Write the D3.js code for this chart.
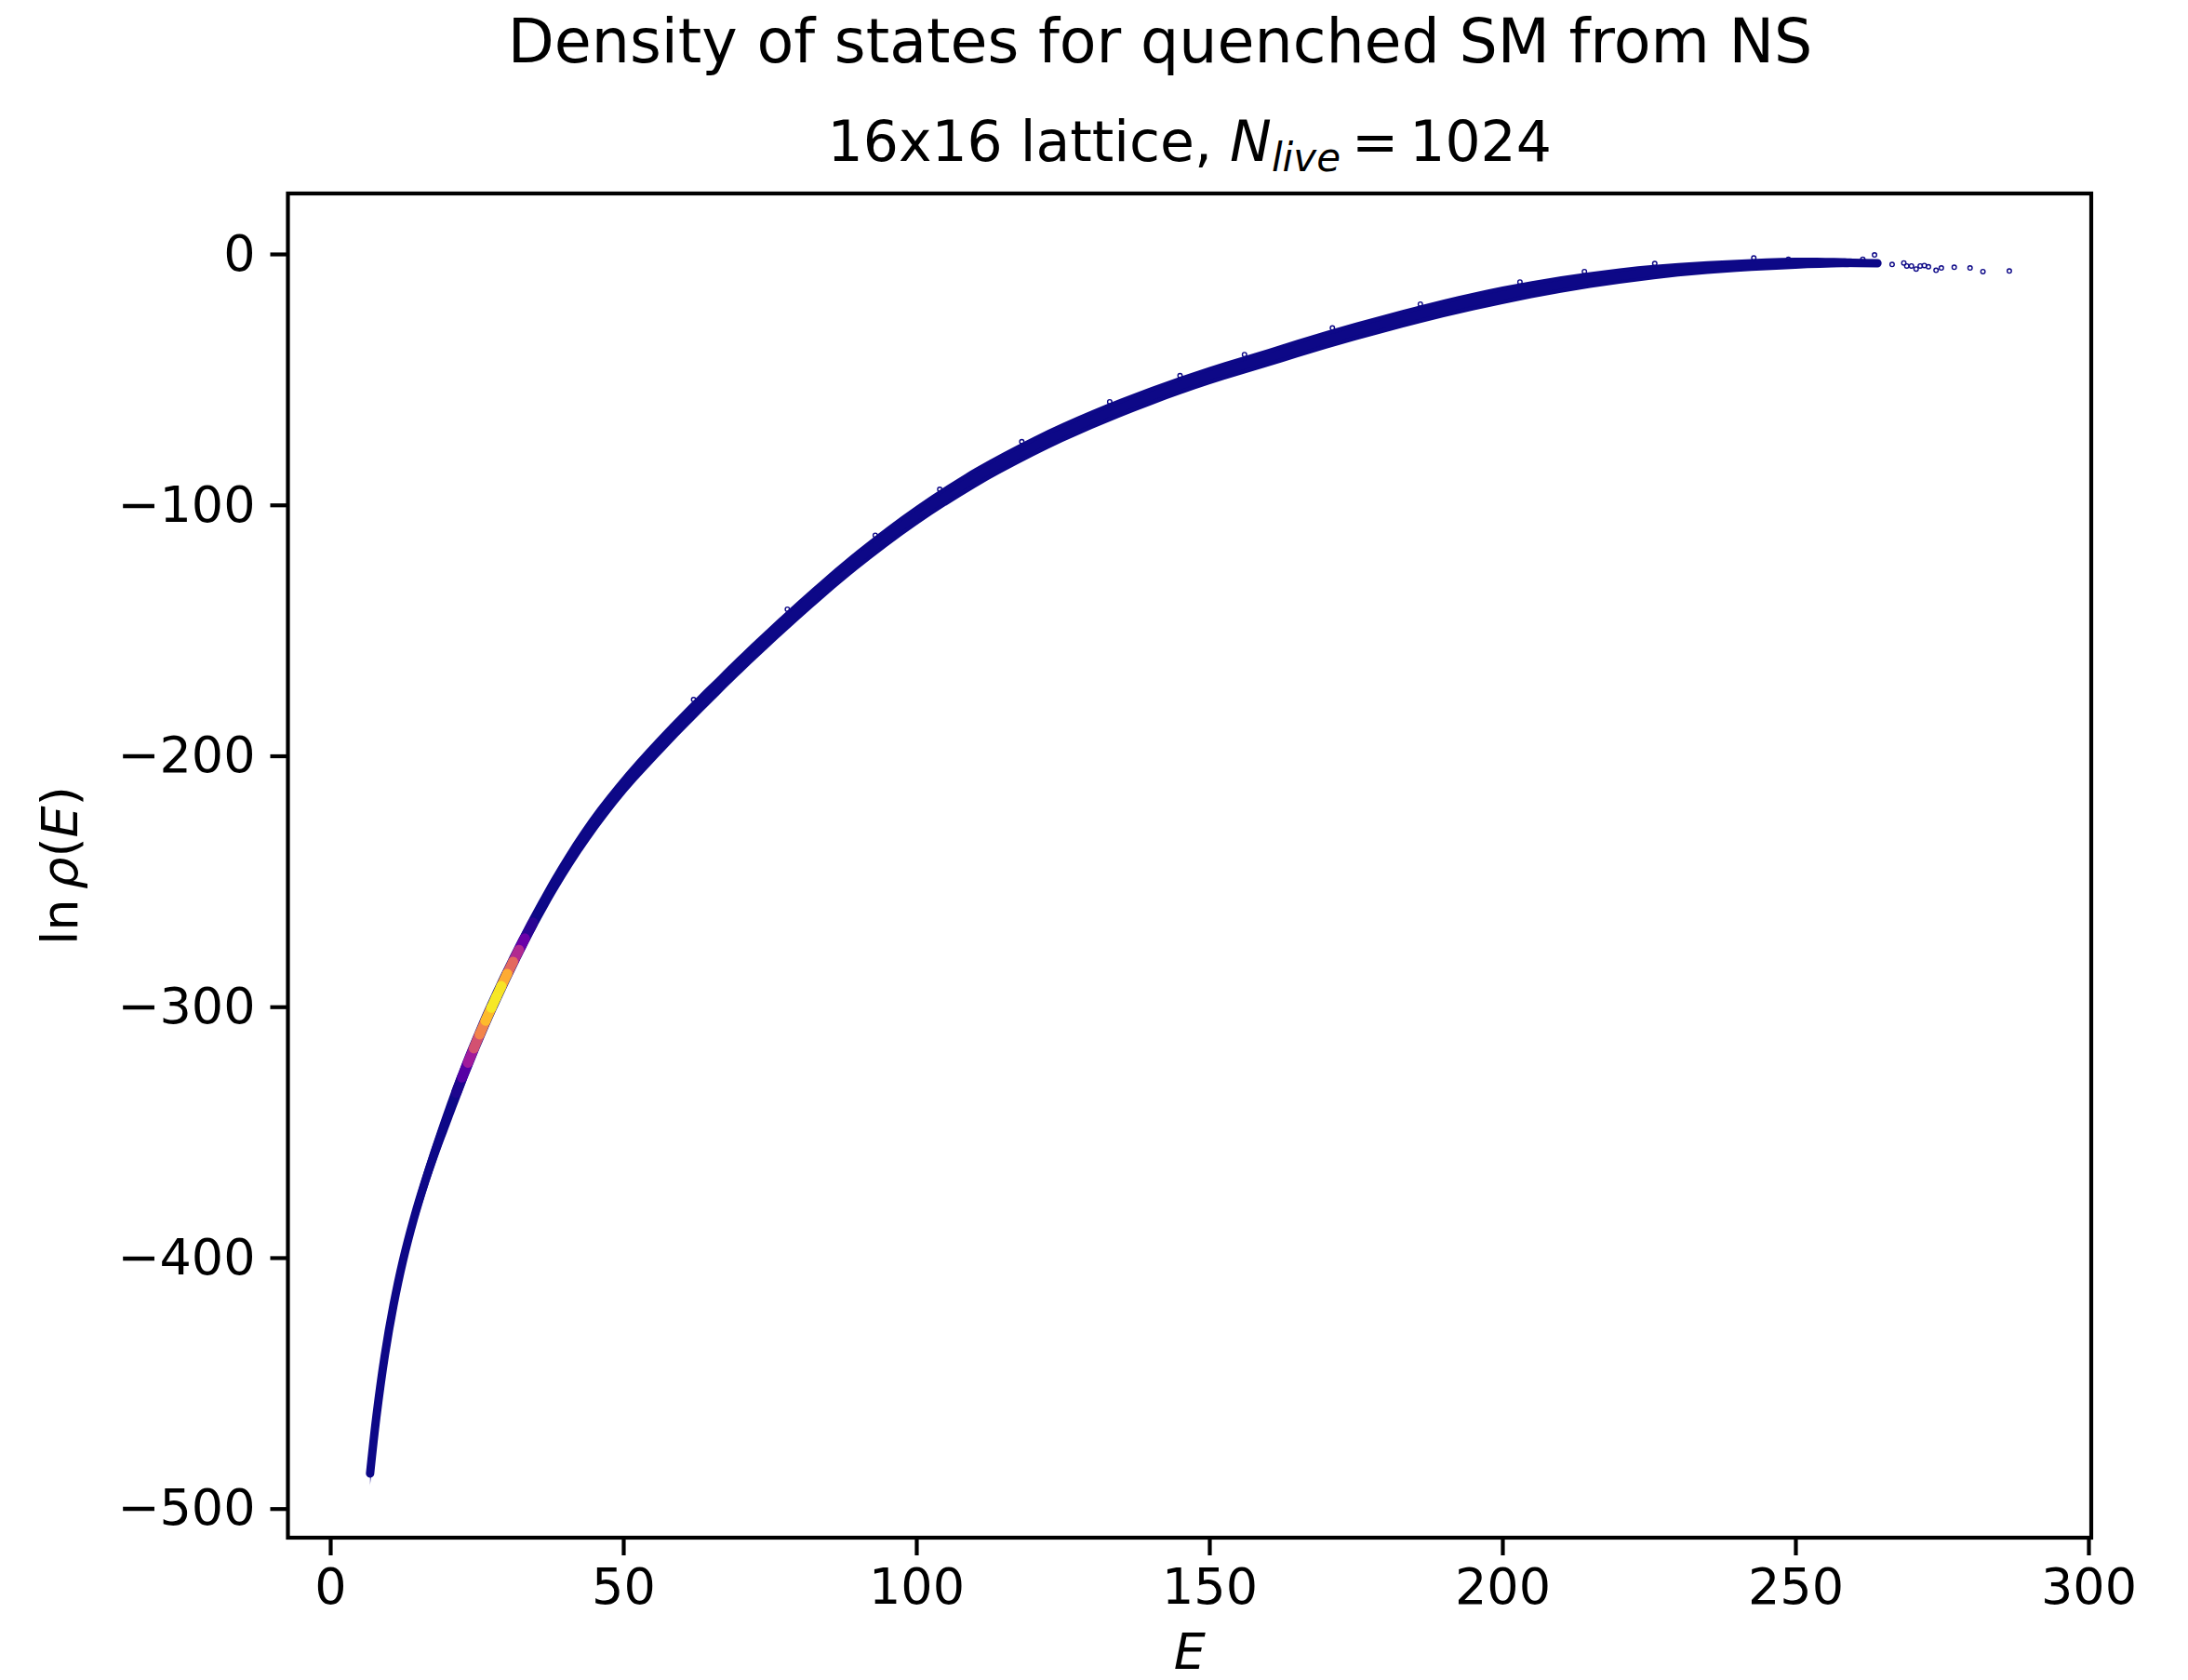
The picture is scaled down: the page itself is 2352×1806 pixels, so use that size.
<!DOCTYPE html>
<html>
<head>
<meta charset="utf-8">
<script src="https://cdn.jsdelivr.net/npm/d3@7"></script>
<style>
  body { margin: 0; background: #fff; }
  text { font-family: "DejaVu Sans", sans-serif; fill: #000; }
</style>
</head>
<body>
<div id="chart"></div>
<script>
// centre of the band
var energy = [6.8, 7.9, 9.3, 10.8, 12.4, 14.3, 16.1, 18.2, 20.4, 21.5, 22.5, 23.5, 24.5, 25.5, 26.5, 27.5,
  28.3, 29.2, 30.2, 31.2, 32.2, 33.2, 34.6, 38.9, 44.2, 50.5, 57.9, 66.4, 72.7, 80, 90, 100, 110, 120,
  130, 140, 150, 160, 170, 180, 190, 200, 210, 220, 230, 240, 250, 258, 264];
var lnRho = [-486, -462.9, -439.1, -418.9, -401.3, -384.2, -370.2, -355.5, -341.2, -334.3, -328.2, -322.3, -316.6, -311, -305.6, -300.4,
  -296.3, -291.8, -286.9, -282.1, -277.4, -272.8, -266.5, -248.6, -229.5, -210.6, -191.7, -171.7, -157.5, -141.8, -121.8, -104.3, -89.3, -76.7,
  -66.0, -56.7, -48.5, -41.4, -34.2, -27.7, -21.7, -16.5, -12.2, -8.8, -6.3, -4.7, -3.7, -3.5, -3.7];
// half height of the scatter around the centre (in ln rho units)
var spread = [5, 5, 5, 5, 5, 5, 5.3, 5.5, 5.9, 5.9, 5.9, 5.8, 5.7, 5.6, 5.5, 5.4,
  5.3, 5.2, 5.1, 5.0, 4.9, 4.8, 4.6, 4.4, 4.3, 4.0, 4.0, 3.9, 3.9, 3.9, 3.9, 3.9, 3.9, 3.8,
  3.7, 3.6, 3.5, 3.5, 3.5, 3.5, 3.5, 3.5, 3.3, 3.1, 2.7, 2.4, 2.2, 1.8, 1.2];
// colour value (plasma) of the points, 0 = dark blue
var density = [0, 0, 0, 0, 0, 0, 0, 0, 0, 0, 0.05, 0.25, 0.45, 0.62, 0.78, 0.92,
  1, 0.9, 0.72, 0.5, 0.3, 0.1, 0, 0, 0, 0, 0, 0, 0, 0, 0, 0, 0, 0,
  0, 0, 0, 0, 0, 0, 0, 0, 0, 0, 0, 0, 0, 0, 0];

// single points that stick out of the band and the sparse tail
var outE = [62, 78, 93, 104, 118, 133, 145, 156, 171, 186, 203, 214, 226,
  242.9, 248.8, 261.5, 263.5, 266.5, 268.5, 269.0, 269.8, 270.6, 271.3, 272.0, 272.7, 274.0, 274.9, 277.1, 279.8, 282.0, 286.5];
var outLn = [-177.6, -141.6, -112.1, -93.8, -74.8, -58.9, -48.5, -40.1, -29.5, -20.0, -11.2, -7.0, -3.8,
  -1.6, -2.1, -2.1, -0.4, -4.2, -3.6, -4.8, -4.8, -6.0, -4.8, -4.6, -5.1, -6.5, -5.6, -5.3, -5.6, -7.0, -6.8];

var xTicks = [0, 50, 100, 150, 200, 250, 300];
var yTicks = [0, -100, -200, -300, -400, -500];

var W = 2352, H = 1806;
var plot = { left: 309.5, right: 2248, top: 208, bottom: 1653 };
var bandColor = d3.interpolatePlasma(0);

var svg = d3
  .select("#chart")
  .append("svg")
  .attr("width", W)
  .attr("height", H)
  .style("display", "block");

svg.append("rect").attr("width", W).attr("height", H).attr("fill", "#fff");

var xScale = d3.scaleLinear().domain([-7.22, 300.48]).range([plot.left, plot.right]);
var yScale = d3.scaleLinear().domain([24.1, -511.6]).range([plot.top, plot.bottom]);

var pts = energy.map(function(e, i) {
  return { E: e, L: lnRho[i], s: spread[i], d: density[i] };
});

var g = svg.append("g");

// band: scatter spread as an area, plus thick centre line
var area = d3
  .area()
  .curve(d3.curveCatmullRom)
  .x(function(d) { return xScale(d.E); })
  .y0(function(d) { return yScale(d.L - d.s); })
  .y1(function(d) { return yScale(d.L + d.s); });

g.append("path").datum(pts).attr("d", area).attr("fill", bandColor);

var line = d3
  .line()
  .curve(d3.curveCatmullRom)
  .x(function(d) { return xScale(d.E); })
  .y(function(d) { return yScale(d.L); });

g.append("path")
  .datum(pts)
  .attr("d", line)
  .attr("fill", "none")
  .attr("stroke", bandColor)
  .attr("stroke-width", 9)
  .attr("stroke-linecap", "round")
  .attr("stroke-linejoin", "round");

// coloured part of the band, brightest on top
var segs = [];
for (var i = 0; i < pts.length - 1; i++) {
  var dd = (pts[i].d + pts[i + 1].d) / 2;
  if (dd > 0) segs.push({ a: pts[i], b: pts[i + 1], d: dd });
}
segs.sort(function(p, q) { return p.d - q.d; });

g.selectAll(".seg")
  .data(segs)
  .enter()
  .append("line")
  .attr("class", "seg")
  .attr("x1", function(d) { return xScale(d.a.E); })
  .attr("y1", function(d) { return yScale(d.a.L); })
  .attr("x2", function(d) { return xScale(d.b.E); })
  .attr("y2", function(d) { return yScale(d.b.L); })
  .attr("stroke", function(d) { return d3.interpolatePlasma(d.d); })
  .attr("stroke-width", 11)
  .attr("stroke-linecap", "round");

// open circle markers
var outliers = outE.map(function(e, i) { return { E: e, L: outLn[i] }; });
g.selectAll(".out")
  .data(outliers)
  .enter()
  .append("circle")
  .attr("class", "out")
  .attr("cx", function(d) { return xScale(d.E); })
  .attr("cy", function(d) { return yScale(d.L); })
  .attr("r", 2.3)
  .attr("fill", "none")
  .attr("stroke", bandColor)
  .attr("stroke-width", 1.4);

// axes
var xAxis = d3.axisBottom(xScale).tickValues(xTicks).tickSize(19).tickPadding(14)
  .tickFormat(function(d) { return d3.format("d")(d).replace("-", "\u2212"); });
var yAxis = d3.axisLeft(yScale).tickValues(yTicks).tickSize(19).tickPadding(16)
  .tickFormat(function(d) { return d3.format("d")(d).replace("-", "\u2212"); });

var gx = svg.append("g").attr("transform", "translate(0," + plot.bottom + ")").call(xAxis);
var gy = svg.append("g").attr("transform", "translate(" + plot.left + ",0)").call(yAxis);

[gx, gy].forEach(function(ax) {
  ax.select(".domain").remove();
  ax.selectAll(".tick line").attr("stroke", "#000").attr("stroke-width", 4.2);
  ax.selectAll(".tick text")
    .style("font-family", "DejaVu Sans")
    .style("font-size", "54px")
    .attr("fill", "#000");
});

// frame
svg.append("rect")
  .attr("x", plot.left)
  .attr("y", plot.top)
  .attr("width", plot.right - plot.left)
  .attr("height", plot.bottom - plot.top)
  .attr("fill", "none")
  .attr("stroke", "#000")
  .attr("stroke-width", 4.2);

// titles
svg.append("text")
  .attr("x", 1247)
  .attr("y", 67)
  .attr("text-anchor", "middle")
  .style("font-size", "65px")
  .text("Density of states for quenched SM from NS");

var sub = svg.append("text")
  .attr("x", (plot.left + plot.right) / 2)
  .attr("y", 173)
  .attr("text-anchor", "middle")
  .style("font-size", "60px");
sub.append("tspan").text("16x16 lattice, ");
sub.append("tspan").style("font-style", "italic").text("N");
sub.append("tspan").style("font-style", "italic").style("font-size", "42px").attr("dy", 11).text("live");
sub.append("tspan").attr("dy", -11).text("\u2009=\u20091024");

// axis labels
svg.append("text")
  .attr("x", (plot.left + plot.right) / 2)
  .attr("y", 1794)
  .attr("text-anchor", "middle")
  .style("font-size", "54px")
  .style("font-style", "italic")
  .text("E");

var yl = svg.append("text")
  .attr("transform", "translate(83," + (plot.top + plot.bottom) / 2 + ") rotate(-90)")
  .attr("text-anchor", "middle")
  .style("font-size", "54px");
yl.append("tspan").text("ln\u2009");
yl.append("tspan").style("font-style", "italic").text("\u03c1");
yl.append("tspan").text("(");
yl.append("tspan").style("font-style", "italic").text("E");
yl.append("tspan").text(")");
</script>
</body>
</html>
